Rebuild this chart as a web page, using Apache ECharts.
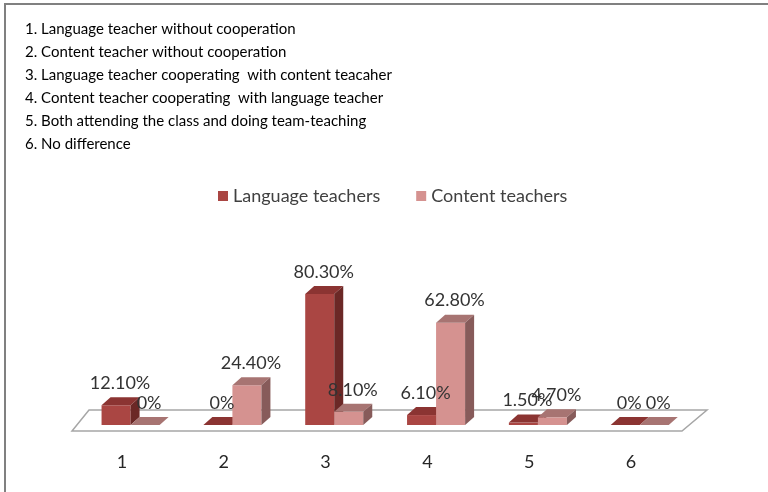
<!DOCTYPE html>
<html>
<head>
<meta charset="utf-8">
<script src="https://cdn.jsdelivr.net/npm/echarts@6/dist/echarts.min.js"></script>
<style>
  html, body { margin: 0; padding: 0; background: #fff; }
  #chart { width: 768px; height: 492px; }
</style>
</head>
<body>
<div id="chart"></div>
<script>
  // 数据
  const categories = ['1', '2', '3', '4', '5', '6'];
  const languageTeachers = [12.1, 0, 80.3, 6.1, 1.5, 0];
  const contentTeachers = [0, 24.4, 8.1, 62.8, 4.7, 0];
  const notes = [
    '1. Language teacher without cooperation',
    '2. Content teacher without cooperation',
    '3. Language teacher cooperating  with content teacaher',
    '4. Content teacher cooperating  with language teacher',
    '5. Both attending the class and doing team-teaching',
    '6. No difference'
  ];

  const FONT = 'Lato, "Open Sans", sans-serif';
  const DX = 9, DY = -8; // 3D 深度偏移

  const chart = echarts.init(document.getElementById('chart'));

  // 柱子正面的位置
  function barBox(slot, api) {
    const idx = api.value(0);
    const val = api.value(1);
    const center = api.coord([idx, 0]);
    const top = api.coord([idx, val]);
    const bw = api.size([1, 0])[0];
    const w = bw * 0.285;
    const x0 = center[0] - bw * 0.2 + slot * w;
    return { x0: x0, x1: x0 + w, yb: center[1], yt: top[1], val: val };
  }

  // 画一根 3D 柱子（正面、顶面、侧面）
  function bar3d(slot, colors) {
    return function (params, api) {
      const b = barBox(slot, api);
      const x0 = b.x0, x1 = b.x1, yb = b.yb, yt = b.yt;
      return {
        type: 'group',
        children: [
          { type: 'polygon', shape: { points: [[x0, yb], [x1, yb], [x1, yt], [x0, yt]] }, style: { fill: colors[0] } },
          { type: 'polygon', shape: { points: [[x0, yt], [x1, yt], [x1 + DX, yt + DY], [x0 + DX, yt + DY]] }, style: { fill: colors[1] } },
          { type: 'polygon', shape: { points: [[x1, yb], [x1 + DX, yb + DY], [x1 + DX, yt + DY], [x1, yt]] }, style: { fill: colors[2] } }
        ]
      };
    };
  }

  // 数值标签（放在最上层）
  function barLabel(slot) {
    return function (params, api) {
      const b = barBox(slot, api);
      return {
        type: 'text',
        style: {
          text: b.val === 0 ? '0%' : b.val.toFixed(2) + '%',
          x: (b.x0 + b.x1) / 2 + 4, y: b.yt - 22,
          align: 'center', verticalAlign: 'middle',
          font: '18px ' + FONT, fill: '#333'
        }
      };
    };
  }

  // 底座平面
  function floor(params, api) {
    const cs = params.coordSys;
    const y0 = api.coord([0, 0])[1];
    const xl = cs.x + 1, xr = cs.x + cs.width;
    return {
      type: 'polygon',
      shape: { points: [[xl, y0 + 6], [xr, y0 + 6], [xr + 25, y0 - 15], [xl + 17, y0 - 15]] },
      style: { fill: '#fff', stroke: '#a6a6a6', lineWidth: 1.5 }
    };
  }

  const langData = languageTeachers.map((v, i) => [i, v]);
  const contData = contentTeachers.map((v, i) => [i, v]);

  const option = {
    animation: false,
    title: {
      text: notes.join('\n'),
      left: 20,
      top: 13,
      textStyle: { fontFamily: FONT, fontSize: 15, fontWeight: 'normal', color: '#000', lineHeight: 23 }
    },
    legend: {
      data: ['Language teachers', 'Content teachers'],
      left: 213,
      top: 182,
      icon: 'rect',
      itemWidth: 10,
      itemHeight: 10,
      itemGap: 36,
      textStyle: { fontFamily: FONT, fontSize: 18, color: '#404040' }
    },
    graphic: [{
      type: 'rect', z: -10,
      shape: { x: 5, y: 4, width: 800, height: 520 },
      style: { fill: 'none', stroke: '#808080', lineWidth: 2 }
    }],
    grid: { left: 71, right: 86, top: 262, bottom: 67 },
    xAxis: {
      type: 'category',
      data: categories,
      axisLine: { show: false },
      axisTick: { show: false },
      axisLabel: { margin: 28, fontFamily: FONT, fontSize: 18, color: '#262626' }
    },
    yAxis: { type: 'value', min: 0, max: 100, show: false },
    series: [
      {
        type: 'custom', name: 'floor', silent: true, z: 1,
        renderItem: floor, data: [[0, 0]], clip: false
      },
      {
        type: 'custom', name: 'Language teachers', z: 2, clip: false,
        itemStyle: { color: '#AA4643' },
        renderItem: bar3d(0, ['#AA4643', '#8B3432', '#6B2826']),
        data: langData
      },
      {
        type: 'custom', name: 'Content teachers', z: 3, clip: false,
        itemStyle: { color: '#D59290' },
        renderItem: bar3d(1, ['#D59290', '#A77472', '#875B5A']),
        data: contData
      },
      {
        type: 'custom', name: 'lang-labels', z: 5, clip: false, silent: true,
        renderItem: barLabel(0), data: langData
      },
      {
        type: 'custom', name: 'cont-labels', z: 5, clip: false, silent: true,
        renderItem: barLabel(1), data: contData
      }
    ]
  };
  chart.setOption(option);
</script>
</body>
</html>
